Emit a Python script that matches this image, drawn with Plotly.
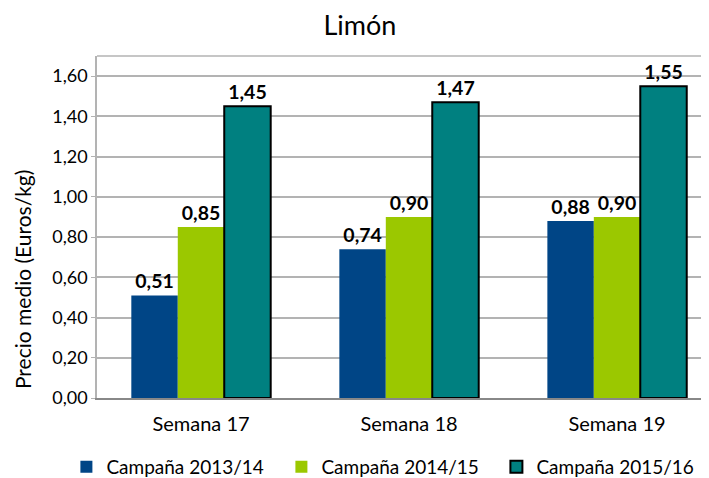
import plotly.graph_objects as go

categories = ["Semana 17", "Semana 18", "Semana 19"]
series_names = ["Campaña 2013/14", "Campaña 2014/15", "Campaña 2015/16"]
values_2013 = [0.51, 0.74, 0.88]
values_2014 = [0.85, 0.90, 0.90]
values_2015 = [1.45, 1.47, 1.55]
y_title = "Precio medio (Euros/kg)"
chart_title = "Limón"

colors = ["#004586", "#9bc800", "#008080"]
line_widths = [0, 0, 2]

FONT = "Lato"

fig = go.Figure()
for name, vals, col, lw in zip(series_names, [values_2013, values_2014, values_2015], colors, line_widths):
    fig.add_trace(go.Bar(
        x=categories, y=vals, name=name,
        marker=dict(color=col, line=dict(color="black", width=lw)),
        texttemplate="%{y:.2f}", textposition="outside",
        textfont=dict(family=FONT, size=19.5, color="black", weight="bold"),
        cliponaxis=False,
    ))

fig.update_layout(
    width=701, height=470,
    margin=dict(l=89, r=0, t=48, b=80, autoexpand=False),
    paper_bgcolor="white", plot_bgcolor="white",
    separators=",.",
    barmode="group", bargap=0.33, bargroupgap=0,
    font=dict(family=FONT, color="black"),
    title=dict(text=chart_title, x=0.502, y=0.962, xanchor="center", yanchor="middle",
               font=dict(family=FONT, size=27, color="black")),
    xaxis=dict(range=[-0.5, 2.442], showgrid=False, showline=True, linecolor="#888888", linewidth=1.5,
               ticks="", tickfont=dict(size=20, color="black"), automargin=False, ticklabelstandoff=7),
    yaxis=dict(range=[0, 1.7], dtick=0.2, tickformat=".2f", showgrid=True, gridcolor="#b3b3b3", gridwidth=1.5,
               showline=True, linecolor="#b3b3b3", linewidth=1.5, ticks="outside", ticklen=4, tickcolor="#b3b3b3",
               tickfont=dict(size=18, color="black"), zeroline=False, automargin=False),
    legend=dict(orientation="h", x=-0.05, xanchor="left", y=-0.2018, yanchor="middle",
                font=dict(size=19, color="black"), traceorder="normal", entrywidth=170),
    showlegend=True,
)
fig.add_annotation(text=y_title, xref="paper", yref="paper", x=-0.1225, y=0.345,
                   textangle=-90, showarrow=False, xanchor="center", yanchor="middle",
                   font=dict(family=FONT, size=21, color="black"))
fig.add_shape(type="line", xref="paper", yref="paper", x0=0, x1=1, y0=1, y1=1,
              line=dict(color="#b3b3b3", width=1.5))

fig.write_html("out.html")
